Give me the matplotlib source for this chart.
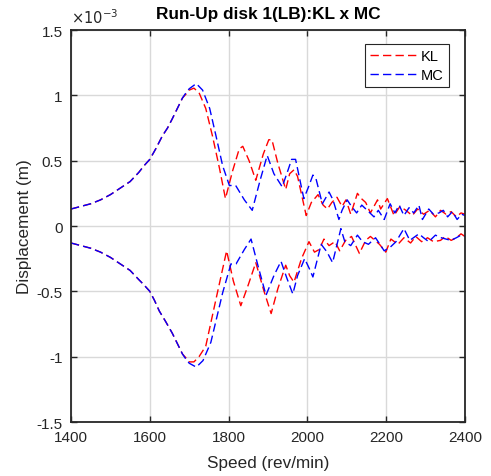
import matplotlib
matplotlib.use('Agg')
import matplotlib.pyplot as plt

# displacement envelopes, values in units of 1e-3 m
kl_up_speed = [1400, 1425, 1450, 1475, 1500, 1525, 1550, 1572, 1585, 1600, 1615, 1632,
               1645, 1657, 1670, 1683, 1692, 1700, 1712, 1725,
               1742, 1759, 1777, 1792, 1810, 1827, 1836, 1852, 1869, 1888, 1902, 1910,
               1925, 1945, 1955, 1966, 1975, 1997, 2010, 2027, 2040, 2051, 2062, 2075,
               2088, 2098, 2110, 2127, 2137, 2148, 2160, 2178, 2186, 2203, 2220, 2235,
               2250, 2266, 2280, 2295, 2310, 2325, 2338, 2352, 2365, 2378, 2390, 2400]
kl_up = [0.13, 0.15, 0.17, 0.20, 0.24, 0.29, 0.34, 0.41, 0.46, 0.51, 0.59, 0.69,
         0.75, 0.82, 0.90, 0.98, 1.01, 1.04, 1.055, 1.02,
         0.90, 0.69, 0.44, 0.21, 0.42, 0.59, 0.61, 0.50, 0.35, 0.55, 0.66, 0.66,
         0.48, 0.28, 0.40, 0.43, 0.38, 0.08, 0.18, 0.24, 0.16, 0.13, 0.18, 0.22,
         0.15, 0.20, 0.09, 0.25, 0.21, 0.18, 0.10, 0.20, 0.13, 0.21, 0.08, 0.15,
         0.12, 0.08, 0.13, 0.09, 0.12, 0.07, 0.12, 0.09, 0.11, 0.07, 0.10, 0.09]

mc_up_speed = [1400, 1425, 1450, 1475, 1500, 1525, 1550, 1572, 1585, 1600, 1615, 1632,
               1645, 1657, 1670, 1683, 1692, 1700, 1718, 1734,
               1752, 1768, 1785, 1802, 1818, 1840, 1860, 1880, 1898, 1915, 1936, 1950,
               1960, 1970, 1991, 2003, 2014, 2022, 2038, 2055, 2065, 2080, 2088, 2101,
               2112, 2125, 2138, 2152, 2169, 2180, 2195, 2210, 2222, 2233, 2245, 2258,
               2270, 2283, 2292, 2308, 2320, 2334, 2345, 2356, 2368, 2380, 2392, 2400]
mc_up = [0.13, 0.15, 0.17, 0.20, 0.24, 0.29, 0.34, 0.41, 0.46, 0.51, 0.59, 0.69,
         0.75, 0.82, 0.90, 0.98, 1.02, 1.05, 1.09, 1.04,
         0.90, 0.69, 0.46, 0.31, 0.31, 0.20, 0.12, 0.35, 0.54, 0.40, 0.30, 0.42,
         0.51, 0.51, 0.21, 0.30, 0.39, 0.36, 0.17, 0.26, 0.20, 0.05, 0.12, 0.20,
         0.15, 0.10, 0.16, 0.12, 0.07, 0.12, 0.05, 0.17, 0.10, 0.16, 0.08, 0.14,
         0.10, 0.16, 0.05, 0.13, 0.09, 0.10, 0.12, 0.07, 0.11, 0.05, 0.09, 0.08]

kl_lo_speed = [1400, 1425, 1450, 1475, 1500, 1525, 1550, 1572, 1585, 1600, 1612, 1624,
               1640, 1657, 1670, 1683, 1692, 1700, 1712, 1725,
               1742, 1768, 1795, 1812, 1831, 1850, 1869, 1890, 1908, 1925, 1945, 1955,
               1966, 1985, 2004, 2018, 2030, 2042, 2055, 2070, 2082, 2097, 2112, 2132,
               2148, 2160, 2183, 2199, 2212, 2230, 2245, 2262, 2275, 2290, 2305, 2320,
               2338, 2350, 2365, 2378, 2390, 2400]
kl_lo = [-0.13, -0.15, -0.17, -0.20, -0.24, -0.29, -0.34, -0.41, -0.45, -0.50, -0.57, -0.65,
         -0.73, -0.82, -0.90, -0.98, -1.01, -1.04, -1.04, -1.00,
         -0.92, -0.56, -0.19, -0.42, -0.61, -0.45, -0.28, -0.50, -0.67, -0.48, -0.30, -0.38,
         -0.43, -0.25, -0.12, -0.20, -0.18, -0.10, -0.15, -0.12, -0.19, -0.11, -0.08, -0.21,
         -0.11, -0.08, -0.14, -0.20, -0.10, -0.14, -0.09, -0.13, -0.08, -0.12, -0.09, -0.12,
         -0.11, -0.08, -0.11, -0.09, -0.06, -0.08]

mc_lo_speed = [1400, 1425, 1450, 1475, 1500, 1525, 1550, 1572, 1585, 1600, 1612, 1624,
               1640, 1657, 1670, 1683, 1692, 1700, 1718, 1735,
               1755, 1785, 1806, 1819, 1840, 1857, 1876, 1895, 1915, 1933, 1948, 1963,
               1975, 1993, 2004, 2014, 2035, 2050, 2064, 2085, 2095, 2110, 2127, 2140,
               2155, 2173, 2195, 2211, 2225, 2245, 2260, 2283, 2295, 2308, 2325, 2340,
               2364, 2378, 2390, 2400]
mc_lo = [-0.13, -0.15, -0.17, -0.20, -0.24, -0.29, -0.34, -0.41, -0.45, -0.50, -0.57, -0.65,
         -0.73, -0.82, -0.90, -0.98, -1.02, -1.05, -1.08, -1.03,
         -0.89, -0.51, -0.29, -0.29, -0.18, -0.10, -0.32, -0.53, -0.38, -0.27, -0.40, -0.52,
         -0.38, -0.25, -0.32, -0.39, -0.14, -0.20, -0.28, -0.02, -0.12, -0.15, -0.07, -0.12,
         -0.14, -0.09, -0.19, -0.16, -0.12, -0.02, -0.11, -0.06, -0.09, -0.12, -0.07, -0.09,
         -0.11, -0.09, -0.07, -0.08]

xticks = [1400, 1600, 1800, 2000, 2200, 2400]
yticks = [-1.5, -1, -0.5, 0, 0.5, 1, 1.5]
ytick_labels = ['-1.5', '-1', '-0.5', '0', '0.5', '1', '1.5']

plt.rcParams['font.family'] = ['Liberation Sans', 'DejaVu Sans']

fig = plt.figure(figsize=(4.91, 4.77), dpi=100)
ax = fig.add_axes([0.1446, 0.1132, 0.8024, 0.8218])

dash = (0, (6, 3))
ax.plot(kl_up_speed, kl_up, color='r', lw=1.0, linestyle=dash, label='KL')
ax.plot(mc_up_speed, mc_up, color='b', lw=1.0, linestyle=dash, label='MC')
ax.plot(kl_lo_speed, kl_lo, color='r', lw=1.0, linestyle=dash)
ax.plot(mc_lo_speed, mc_lo, color='b', lw=1.0, linestyle=dash)

ax.set_xlim(1400, 2400)
ax.set_ylim(-1.5, 1.5)
ax.set_xticks(xticks)
ax.set_yticks(yticks)
ax.set_yticklabels(ytick_labels)
ax.grid(True, color='#d9d9d9', lw=1.0)
ax.set_axisbelow(True)
ax.tick_params(direction='in', length=4, width=1, top=True, right=True,
               labelsize=11, colors='#262626')
ax.tick_params(axis='x', pad=6)
ax.tick_params(axis='y', pad=6)
for s in ax.spines.values():
    s.set_linewidth(1.3)
    s.set_color('#262626')

ax.set_xlabel('Speed (rev/min)', fontsize=12.3, color='#262626', labelpad=8)
ax.set_ylabel('Displacement (m)', fontsize=12.3, color='#262626', labelpad=3)
ax.set_title('Run-Up disk 1(LB):KL x MC', fontsize=12.4, fontweight='bold', pad=9)
ax.text(0.0, 1.01, r'$\times10^{-3}$', transform=ax.transAxes, fontsize=10.5,
        color='#262626', ha='left', va='bottom')

leg = ax.legend(loc='upper right', bbox_to_anchor=(0.959, 0.964), borderaxespad=0,
                fontsize=10.5, fancybox=False, framealpha=1, edgecolor='#262626',
                handlelength=3.2, borderpad=0.35, labelspacing=0.35, handletextpad=0.3)
leg.get_frame().set_linewidth(0.8)

fig.savefig('out.png', dpi=100)
